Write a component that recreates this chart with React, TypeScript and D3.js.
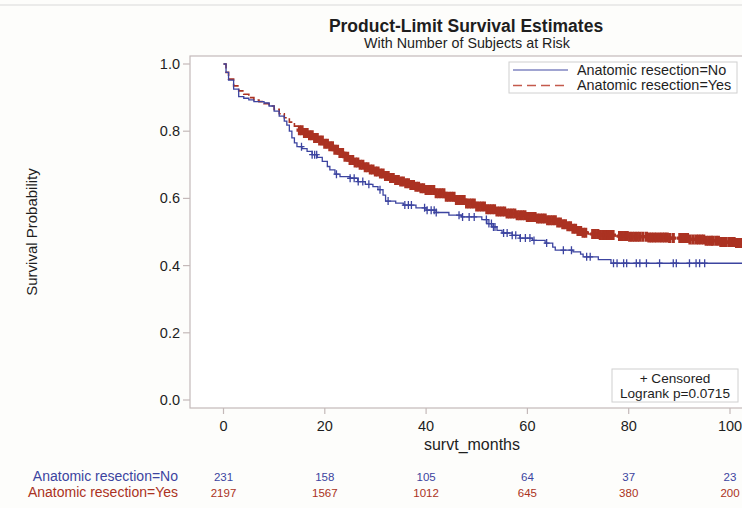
import React, { useEffect, useRef } from "react";
import * as d3 from "d3";

// Kaplan-Meier step knots: months and survival probability
const noTimes = [0, 0.5, 1, 2, 3, 4, 5, 6, 8, 9, 10, 11, 12, 12.5, 13, 13.5, 14, 14.5, 15.5, 16.5, 17.5, 18.5, 19.5, 20.5, 21, 22, 23, 25, 26.5, 28, 29.5, 30.5, 31.5, 32, 34, 35.5, 38, 40, 42, 44.5, 47, 51, 52, 53, 54, 55, 57, 58.5, 61, 63.5, 65, 65.5, 69, 70.5, 71, 74, 76.5, 103];
const noSurv = [1.0, 0.975, 0.952, 0.925, 0.903, 0.898, 0.893, 0.888, 0.884, 0.875, 0.86, 0.845, 0.83, 0.818, 0.8, 0.78, 0.765, 0.754, 0.748, 0.74, 0.73, 0.722, 0.71, 0.695, 0.685, 0.672, 0.665, 0.66, 0.65, 0.642, 0.635, 0.626, 0.61, 0.592, 0.586, 0.58, 0.572, 0.565, 0.558, 0.55, 0.545, 0.537, 0.525, 0.515, 0.505, 0.497, 0.49, 0.482, 0.475, 0.467, 0.455, 0.446, 0.441, 0.434, 0.426, 0.418, 0.407, 0.407];

const yesTimes = [0, 0.5, 1, 2, 3, 4, 5, 6, 7, 8, 9, 10, 11, 12, 13, 14, 15, 16, 17, 18, 19, 20, 21, 22, 23, 24, 25, 26, 27, 28, 29, 30, 31, 32, 33, 34, 35, 36, 37, 38, 39, 40, 42, 44, 46, 48, 50, 52, 54, 56, 58, 60, 62, 64, 66, 67, 68, 69, 70, 71, 72, 74, 77, 80, 84, 88, 92, 95, 98, 101, 103];
const yesSurv = [1.0, 0.975, 0.955, 0.935, 0.92, 0.91, 0.9, 0.893, 0.888, 0.882, 0.875, 0.865, 0.852, 0.84, 0.827, 0.815, 0.803, 0.795, 0.788, 0.78, 0.772, 0.763, 0.755, 0.745, 0.735, 0.724, 0.714, 0.707, 0.7, 0.693, 0.686, 0.68, 0.674, 0.667, 0.661, 0.655, 0.65, 0.645, 0.64, 0.635, 0.63, 0.625, 0.615, 0.605, 0.595, 0.585, 0.576, 0.568, 0.561, 0.555, 0.55, 0.545, 0.54, 0.535, 0.528, 0.523, 0.517, 0.51, 0.503, 0.498, 0.494, 0.491, 0.488, 0.486, 0.484, 0.482, 0.478, 0.474, 0.47, 0.467, 0.467];

// Censoring times (months)
const noCensored = [15.4, 17.5, 18, 18.4, 22.3, 25, 25.8, 26.6, 27.5, 28.7, 30.9, 32.5, 35.8, 36.5, 37.1, 39.7, 40.2, 41, 41.6, 42, 46.5, 47.2, 48.5, 49.5, 51.9, 52.4, 52.9, 53.3, 53.6, 55.3, 56, 57, 57.7, 58.6, 59.6, 60.5, 61.3, 63.8, 67.1, 68.7, 71.7, 72.4, 77, 77.7, 79, 79.6, 81.5, 82.2, 83.5, 86.1, 88.8, 89.4, 92, 93.3, 94, 95];
const yesCensored = [
  15, 15.5, 16, 16.5, 17, 17.5, 18, 18.5, 19, 19.5, 20, 20.5, 21, 21.5, 22, 22.5, 23, 23.5, 24, 24.5,
  25, 25.5, 26, 26.5, 27, 27.5, 28, 28.5, 29, 29.5, 30, 30.5, 31, 31.5, 32, 32.5, 33, 33.5, 34, 34.5,
  35, 35.5, 36, 36.5, 37, 37.5, 38, 38.5, 39, 39.5, 40, 40.5, 41, 41.5, 42, 42.5, 43, 43.5, 44, 44.5,
  45, 45.5, 46, 46.5, 47, 47.5, 48, 48.5, 49, 49.5, 50, 50.5, 51, 51.5, 52, 52.5, 53, 53.5, 54, 54.5,
  55, 55.5, 56, 56.5, 57, 57.5, 58, 58.5, 59, 59.5, 60, 60.5, 61, 61.5, 62, 62.5, 63, 63.5, 64, 64.5,
  65, 65.5, 66, 66.5, 67, 67.5, 68, 68.5, 69, 69.5, 70, 70.5, 71, 71.5,
  72.9, 73.4, 73.9, 74.4, 74.9, 75.4, 75.9, 76.4, 76.9,
  78.2, 78.7, 79.2, 79.7, 80.2, 80.7, 81.2, 81.7, 82.2, 82.8,
  83.5, 84, 84.5, 85, 85.5,
  86.1, 86.6, 87.1, 87.6, 88.1, 88.8,
  90.1, 90.6, 91.1, 91.6, 92.1, 92.7,
  93.3, 93.8, 94.3, 94.8, 95.3, 95.8, 96.3, 96.6,
  97.2, 97.7, 98.2, 98.7, 99.2,
  99.8, 100.3, 100.8, 101.3, 101.8, 102.3
];

const xTicks = [0, 20, 40, 60, 80, 100];
const yTicks = [0, 0.2, 0.4, 0.6, 0.8, 1.0];
const atRiskNo = [231, 158, 105, 64, 37, 23];
const atRiskYes = [2197, 1567, 1012, 645, 380, 200];

const W = 742;
const H = 508;
const BLUE = "#3c44a0";
const RED = "#ab3222";
const FRAME = "#c4b9b9";
const INK = "#1e1e1e";
const FONT = "Liberation Sans, Arial, sans-serif";

export default function App() {
  const ref = useRef<SVGSVGElement>(null);

  useEffect(() => {
    const svg = d3.select(ref.current);
    svg.selectAll("*").remove();

    const x = d3.scaleLinear().domain([0, 100]).range([223.5, 730]);
    const y = d3.scaleLinear().domain([0, 1]).range([400, 64]);
    const left = 190, top = 56, bottom = 408, right = 745;

    svg.append("rect").attr("width", W).attr("height", H).attr("fill", "#fdfdfb");
    svg.append("line").attr("x1", 0).attr("x2", W).attr("y1", 5).attr("y2", 5)
      .attr("stroke", "#e4e4e4").attr("stroke-width", 1.5);

    // titles
    svg.append("text").attr("x", 466).attr("y", 32).attr("text-anchor", "middle")
      .attr("font-family", FONT).attr("font-weight", "bold").attr("font-size", 17.5)
      .attr("fill", INK).text("Product-Limit Survival Estimates");
    svg.append("text").attr("x", 467).attr("y", 48).attr("text-anchor", "middle")
      .attr("font-family", FONT).attr("font-size", 14.3)
      .attr("fill", INK).text("With Number of Subjects at Risk");

    // plot frame
    svg.append("rect").attr("x", left).attr("y", top).attr("width", right - left)
      .attr("height", bottom - top).attr("fill", "#fff").attr("stroke", FRAME).attr("stroke-width", 1.2);

    // y axis
    const gy = svg.append("g");
    yTicks.forEach((t) => {
      gy.append("line").attr("x1", left - 7).attr("x2", left).attr("y1", y(t)).attr("y2", y(t))
        .attr("stroke", FRAME).attr("stroke-width", 1.2);
      gy.append("text").attr("x", 180).attr("y", y(t) + 5).attr("text-anchor", "end")
        .attr("font-family", FONT).attr("font-size", 14.5).attr("fill", INK).text(t.toFixed(1));
    });
    svg.append("text").attr("transform", `translate(37,232) rotate(-90)`)
      .attr("text-anchor", "middle").attr("font-family", FONT).attr("font-size", 15)
      .attr("fill", INK).text("Survival Probability");

    // x axis
    const gx = svg.append("g");
    xTicks.forEach((t) => {
      gx.append("line").attr("x1", x(t)).attr("x2", x(t)).attr("y1", bottom).attr("y2", bottom + 6)
        .attr("stroke", FRAME).attr("stroke-width", 1.2);
      gx.append("text").attr("x", x(t)).attr("y", 431).attr("text-anchor", "middle")
        .attr("font-family", FONT).attr("font-size", 14.5).attr("fill", INK).text(String(t));
    });
    svg.append("text").attr("x", 472).attr("y", 450).attr("text-anchor", "middle")
      .attr("font-family", FONT).attr("font-size", 16).attr("fill", INK).text("survt_months");

    // curves
    const plot = svg.append("g");
    const line = d3.line<[number, number]>().x((d) => x(d[0])).y((d) => y(d[1])).curve(d3.curveStepAfter);
    const noData: [number, number][] = noTimes.map((t, i) => [t, noSurv[i]]);
    const yesData: [number, number][] = yesTimes.map((t, i) => [t, yesSurv[i]]);
    const stepAt = (times: number[], surv: number[], t: number) => {
      const i = d3.bisectRight(times, t) - 1;
      return surv[Math.max(0, i)];
    };

    plot.append("path").attr("d", line(yesData)).attr("fill", "none").attr("stroke", RED)
      .attr("stroke-width", 1.6).attr("stroke-dasharray", "7,3");
    yesCensored.forEach((t) => {
      const cx = x(t), cy = y(stepAt(yesTimes, yesSurv, t));
      plot.append("path").attr("d", `M${cx - 3},${cy}H${cx + 3}M${cx},${cy - 5}V${cy + 5}`)
        .attr("stroke", RED).attr("stroke-width", 3.2).attr("fill", "none");
    });

    plot.append("path").attr("d", line(noData)).attr("fill", "none").attr("stroke", BLUE)
      .attr("stroke-width", 1.3);
    noCensored.forEach((t) => {
      const cx = x(t), cy = y(stepAt(noTimes, noSurv, t));
      plot.append("path").attr("d", `M${cx - 3},${cy}H${cx + 3}M${cx},${cy - 4}V${cy + 4}`)
        .attr("stroke", BLUE).attr("stroke-width", 1.3).attr("fill", "none");
    });

    // legend
    const lg = svg.append("g");
    lg.append("rect").attr("x", 509).attr("y", 62).attr("width", 228).attr("height", 31)
      .attr("fill", "#fff").attr("stroke", "#d0d0d0");
    lg.append("line").attr("x1", 513).attr("x2", 568).attr("y1", 70).attr("y2", 70)
      .attr("stroke", "#8086c2").attr("stroke-width", 1.3);
    lg.append("line").attr("x1", 513).attr("x2", 568).attr("y1", 85.5).attr("y2", 85.5)
      .attr("stroke", "#c45a4c").attr("stroke-width", 1.5).attr("stroke-dasharray", "9,5");
    lg.append("text").attr("x", 577).attr("y", 74.5).attr("font-family", FONT).attr("font-size", 14.4)
      .attr("fill", INK).text("Anatomic resection=No");
    lg.append("text").attr("x", 577).attr("y", 89.5).attr("font-family", FONT).attr("font-size", 14.4)
      .attr("fill", INK).text("Anatomic resection=Yes");

    // censor / logrank box
    const cb = svg.append("g");
    cb.append("rect").attr("x", 612).attr("y", 369).attr("width", 126).attr("height", 33)
      .attr("fill", "#fff").attr("stroke", "#d0d0d0");
    cb.append("text").attr("x", 675).attr("y", 382.5).attr("text-anchor", "middle").attr("font-family", FONT)
      .attr("font-size", 13.6).attr("fill", INK).text("+ Censored");
    cb.append("text").attr("x", 675).attr("y", 398).attr("text-anchor", "middle").attr("font-family", FONT)
      .attr("font-size", 13.6).attr("fill", INK).text("Logrank p=0.0715");

    // at-risk table
    const rt = svg.append("g");
    rt.append("text").attr("x", 178).attr("y", 481).attr("text-anchor", "end").attr("font-family", FONT)
      .attr("font-size", 14).attr("fill", BLUE).text("Anatomic resection=No");
    rt.append("text").attr("x", 178).attr("y", 497).attr("text-anchor", "end").attr("font-family", FONT)
      .attr("font-size", 14).attr("fill", RED).text("Anatomic resection=Yes");
    xTicks.forEach((t, i) => {
      rt.append("text").attr("x", x(t)).attr("y", 481).attr("text-anchor", "middle").attr("font-family", FONT)
        .attr("font-size", 11.5).attr("fill", BLUE).text(String(atRiskNo[i]));
      rt.append("text").attr("x", x(t)).attr("y", 497).attr("text-anchor", "middle").attr("font-family", FONT)
        .attr("font-size", 11.5).attr("fill", RED).text(String(atRiskYes[i]));
    });
  }, []);

  return (
    <svg ref={ref} width={W} height={H}
      style={{ position: "absolute", left: 0, top: 0, display: "block" }} />
  );
}
